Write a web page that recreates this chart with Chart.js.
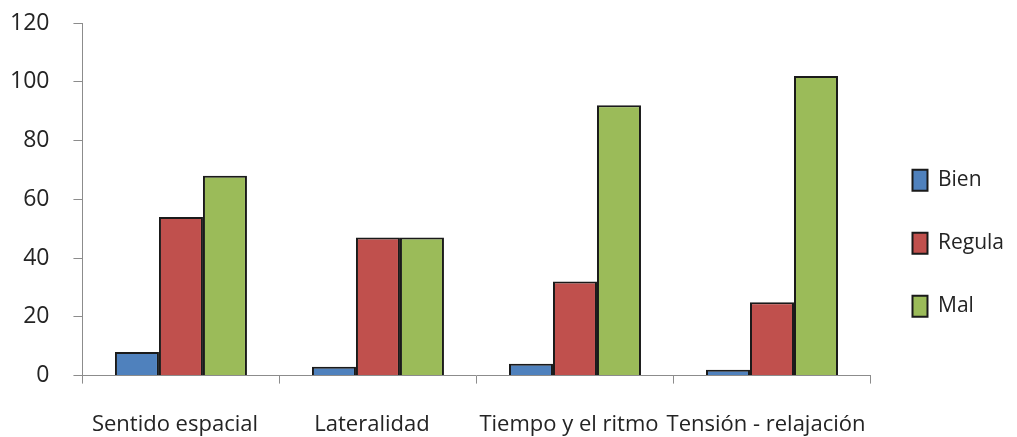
<!DOCTYPE html>
<html>
<head>
<meta charset="utf-8">
<script src="https://cdn.jsdelivr.net/npm/chart.js@4/dist/chart.umd.min.js"></script>
<style>
  html, body { margin: 0; padding: 0; background: #ffffff; }
  #wrap { width: 1017px; height: 437px; }
</style>
</head>
<body>
<div id="wrap"><canvas id="c"></canvas></div>
<script>
// Categorías evaluadas
const categorias = ['Sentido espacial', 'Lateralidad', 'Tiempo y el ritmo', 'Tensión - relajación'];

// Resultados por nivel
const bien   = [8, 3, 4, 2];
const regula = [54, 47, 32, 25];
const mal    = [68, 47, 92, 102];

// Marcas del eje vertical
const ejeMin = 0;
const ejeMax = 120;
const ejePaso = 20;

const FONT = '"Open Sans", "DejaVu Sans", sans-serif';
const AXIS_GRAY = '#8c8c8c';
const TEXT = '#242424';

new Chart(document.getElementById('c'), {
  type: 'bar',
  data: {
    labels: categorias,
    datasets: [
      { label: 'Bien',   data: bien,   backgroundColor: '#4f81bd' },
      { label: 'Regula', data: regula, backgroundColor: '#c0504d' },
      { label: 'Mal',    data: mal,    backgroundColor: '#9bbb59' }
    ]
  },
  options: {
    responsive: true,
    maintainAspectRatio: false,
    animation: false,
    devicePixelRatio: 1,
    layout: { padding: { left: -14, right: 3, top: 0, bottom: -29 } },
    datasets: {
      bar: {
        borderColor: '#1a1a1a',
        borderWidth: 2,
        borderSkipped: 'bottom',
        barPercentage: 1.0,
        categoryPercentage: 0.67
      }
    },
    plugins: {
      tooltip: { enabled: false },
      legend: {
        position: 'right',
        align: 'center',
        title: { display: true, text: ' ', padding: 0, font: { size: 17, family: FONT } },
        labels: {
          boxWidth: 15,
          boxHeight: 21,
          padding: 42,
          color: TEXT,
          font: { size: 21, family: FONT }
        }
      }
    },
    scales: {
      x: {
        grid: {
          display: true,
          offset: true,
          drawOnChartArea: false,
          drawTicks: true,
          tickLength: 8,
          color: AXIS_GRAY
        },
        border: { display: true, color: AXIS_GRAY, width: 1 },
        ticks: { color: TEXT, padding: 28, labelOffset: -6, font: { size: 22, family: FONT }, maxRotation: 0, autoSkip: false }
      },
      y: {
        min: ejeMin,
        max: ejeMax,
        grid: {
          display: true,
          drawOnChartArea: false,
          drawTicks: true,
          tickLength: 9,
          color: AXIS_GRAY
        },
        border: { display: true, color: AXIS_GRAY, width: 1 },
        ticks: { stepSize: ejePaso, color: TEXT, padding: 24, font: { size: 23, family: FONT } },
        // espacio superior del área de trazado
        afterFit(scale) { scale.paddingTop = 23; }
      }
    }
  }
});
</script>
</body>
</html>
